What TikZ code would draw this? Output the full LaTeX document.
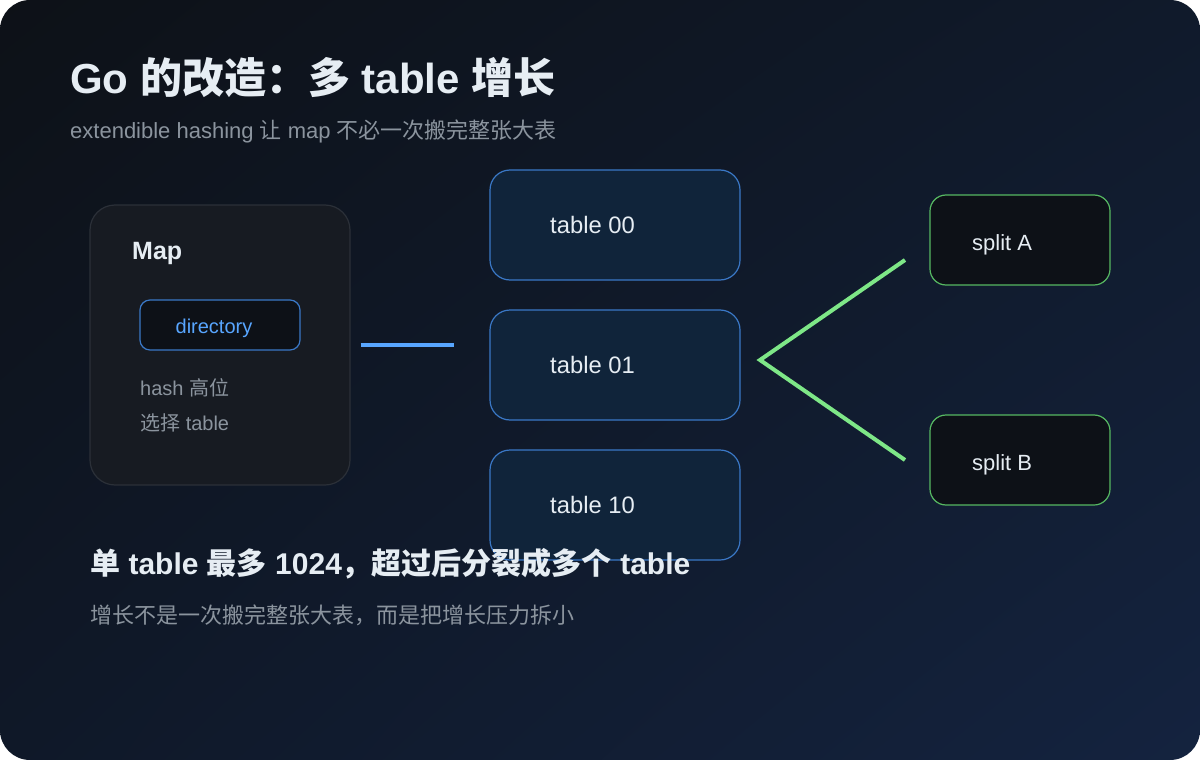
\documentclass[tikz,border=0pt]{standalone}
\usepackage{fontspec}
\usetikzlibrary{shadings}
\setmainfont{Liberation Sans}
\newfontfamily\cjkfont{Noto Sans CJK SC}
\newcommand\zh[1]{{\cjkfont #1}}
\newcommand\fsz[1]{\fontsize{#1}{#1}\selectfont}
\definecolor{bgA}{HTML}{0D1117}
\definecolor{bgB}{HTML}{101A2B}
\definecolor{bgC}{HTML}{0F1828}
\definecolor{bgD}{HTML}{14233F}
\definecolor{txtW}{HTML}{E6EDF3}
\definecolor{txtG}{HTML}{8B949E}
\definecolor{accB}{HTML}{58A6FF}
\definecolor{brdB}{HTML}{3A78C6}
\definecolor{tblF}{HTML}{10243A}
\definecolor{mapF}{HTML}{171B22}
\definecolor{mapD}{HTML}{2B3038}
\definecolor{dirF}{HTML}{0D1117}
\definecolor{accG}{HTML}{7EE787}
\definecolor{brdG}{HTML}{56B862}
\begin{document}
\begin{tikzpicture}[x=1pt,y=-1pt,
  txt/.style={inner sep=0pt, anchor=base west},
  mapbox/.style={draw=mapD, fill=mapF, line width=1.2pt, rounded corners=25pt, minimum width=260pt, minimum height=280pt, inner sep=0pt},
  dirbox/.style={draw=brdB, fill=dirF, line width=1.2pt, rounded corners=10pt, minimum width=160pt, minimum height=50pt, inner sep=0pt},
  tblbox/.style={draw=brdB, fill=tblF, line width=1.2pt, rounded corners=20pt, minimum width=250pt, minimum height=110pt, inner sep=0pt},
  splitbox/.style={draw=brdG, fill=dirF, line width=1.2pt, rounded corners=16pt, minimum width=180pt, minimum height=90pt, inner sep=0pt},
  blueline/.style={draw=accB, line width=4pt},
  greenline/.style={draw=accG, line width=4pt}
]
\useasboundingbox (0,0) rectangle (1200,760);
\shade[rounded corners=30pt, upper left=bgA, upper right=bgB, lower left=bgC, lower right=bgD] (0,0) rectangle (1200,760);

% title
\node[txt, text=txtW, font=\fsz{42}\bfseries] (title) at (70,93) {Go \zh{的改造：多} table \zh{增长}};
\node[txt, text=txtG, font=\fsz{22}] (subtitle) at (70,138) {extendible hashing \zh{让} map \zh{不必一次搬完整张大表}};

% map box
\node[mapbox] (map) at (220,345) {};
\node[txt, text=txtW, font=\fsz{25}\bfseries] (maplbl) at (132,259) {Map};
\node[dirbox] (dir) at (220,325) {};
\node[text=accB, font=\fsz{20}, inner sep=0pt, anchor=base] (dirlbl) at (214,333) {directory};
\node[txt, text=txtG, font=\fsz{20}] (hash1) at (140,395) {hash \zh{高位}};
\node[txt, text=txtG, font=\fsz{20}] (hash2) at (140,430) {\zh{选择} table};

% tables
\node[tblbox] (t0) at (615,225) {};
\node[tblbox] (t1) at (615,365) {};
\node[tblbox] (t2) at (615,505) {};
\node[txt, text=txtW, font=\fsz{23.8}] (t0l) at (550,233) {table 00};
\node[txt, text=txtW, font=\fsz{23.8}] (t1l) at (550,373) {table 01};
\node[txt, text=txtW, font=\fsz{23.8}] (t2l) at (550,513) {table 10};

% splits
\node[splitbox] (sA) at (1020,240) {};
\node[splitbox] (sB) at (1020,460) {};
\node[txt, text=txtW, font=\fsz{22}] (sAl) at (972,250) {split A};
\node[txt, text=txtW, font=\fsz{22}] (sBl) at (972,470) {split B};

% connectors
\draw[blueline, shorten <=10pt, shorten >=35pt] (map.east) -- (map.east -| t1.west);
\coordinate (fork) at (760,360);
\coordinate (endA) at (905,260);
\coordinate (endB) at (905,460);
\draw[greenline, line join=miter] (endA) -- (fork) -- (endB);

% bottom text
\node[txt, text=txtW, font=\fsz{30}\bfseries] (note) at (90,574) {\zh{单} table \zh{最多} 1024\zh{，超过后分裂成多个} table};
\node[txt, text=txtG, font=\fsz{22}] (note2) at (90,623) {\zh{增长不是一次搬完整张大表，而是把增长压力拆小}};
\end{tikzpicture}
\end{document}
